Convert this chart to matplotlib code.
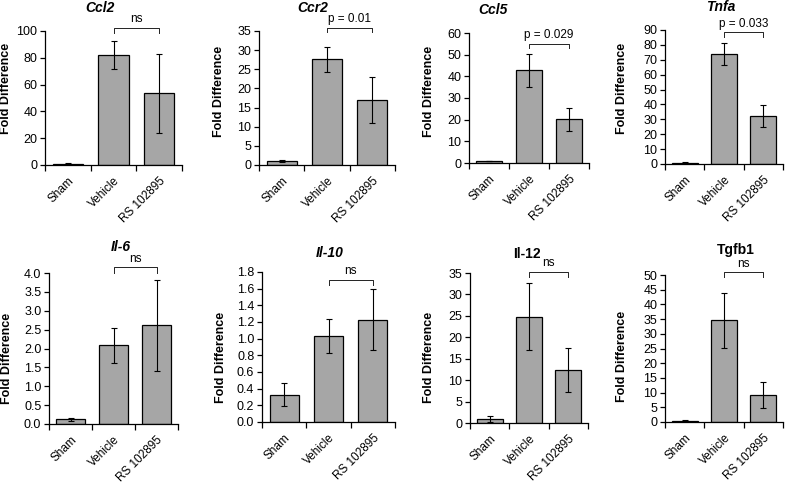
import matplotlib
matplotlib.use("Agg")
import matplotlib.pyplot as plt

plt.rcParams['font.family'] = ['Liberation Sans', 'DejaVu Sans']

# ---------------- data ----------------
groups = ["Sham", "Vehicle", "RS 102895"]
genes = ["Ccl2", "Ccr2", "Ccl5", "Tnfa", "Il-6", "Il-10", "Il-12", "Tgfb1"]
italic_title = [True, True, True, True, True, True, False, False]

ccl2_mean = [0.9, 82.0, 53.6]
ccl2_err = [0.3, 10.5, 29.6]
ccr2_mean = [1.0, 27.6, 17.0]
ccr2_err = [0.2, 3.3, 5.9]
ccl5_mean = [0.9, 42.7, 20.1]
ccl5_err = [0.2, 7.6, 5.4]
tnfa_mean = [0.9, 73.7, 32.2]
tnfa_err = [0.2, 7.5, 7.3]
il6_mean = [0.12, 2.08, 2.61]
il6_err = [0.03, 0.47, 1.20]
il10_mean = [0.33, 1.03, 1.23]
il10_err = [0.135, 0.205, 0.365]
il12_mean = [0.94, 24.8, 12.4]
il12_err = [0.6, 7.8, 5.2]
tgfb1_mean = [0.45, 34.6, 9.3]
tgfb1_err = [0.2, 9.4, 4.45]

means = [ccl2_mean, ccr2_mean, ccl5_mean, tnfa_mean, il6_mean, il10_mean, il12_mean, tgfb1_mean]
errs = [ccl2_err, ccr2_err, ccl5_err, tnfa_err, il6_err, il10_err, il12_err, tgfb1_err]

y_max = [100, 35, 60, 90, 4.0, 1.8, 35, 50]
y_step = [20, 5, 10, 10, 0.5, 0.2, 5, 5]
y_fmt = ["{:.0f}", "{:.0f}", "{:.0f}", "{:.0f}", "{:.1f}", "{:.1f}", "{:.0f}", "{:.0f}"]

sig_labels = ["ns", "p = 0.01", "p = 0.029", "p = 0.033", "ns", "ns", "ns", "ns"]
bracket_level = [102.2, 35.9, 55.1, 88.4, 4.15, 1.71, 35.3, 50.9]

# ---------------- layout (pixels) ----------------
W, H = 785, 484
# left, right, top, bottom
boxes = [(45, 182, 31, 165), (259, 395, 31, 165), (469, 589, 33, 163), (665, 783, 30, 164),
         (49, 178, 273, 424), (262, 395, 272, 422), (470, 588, 273, 423), (665, 783, 275, 422)]
title_pos = [(100, 8), (313, 8), (493, 10), (721, 7), (121, 247), (330, 253), (527, 254), (736, 250)]
ylabel_center = [(7.5, 88), (220, 91), (430, 91), (623, 88),
                 (8, 358), (222, 357), (430, 357), (623, 356)]

fig = plt.figure(figsize=(W / 100, H / 100), dpi=100)

bar_color = "#a6a6a6"
x = list(range(len(groups)))

for i in range(8):
    l, r, t, b = boxes[i]
    ax = fig.add_axes([l / W, 1 - b / H, (r - l) / W, (b - t) / H])
    ax.bar(x, means[i], width=0.66, color=bar_color, edgecolor="black", linewidth=0.9, zorder=2)
    ax.errorbar(x, means[i], yerr=errs[i], fmt="none", ecolor="black", elinewidth=0.8,
                capsize=2.4, capthick=0.8, zorder=3)
    ax.set_xlim(-0.5, 2.5)
    ax.set_ylim(0, y_max[i])
    n = int(round(y_max[i] / y_step[i]))
    yt = [k * y_step[i] for k in range(n + 1)]
    ax.set_yticks(yt)
    ax.set_yticklabels([y_fmt[i].format(v) for v in yt], fontsize=9)
    ax.set_xticks([-0.5, 0.5, 1.5, 2.5])
    ax.set_xticklabels([])
    ax.set_xticks(x, minor=True)
    ax.set_xticklabels(groups, minor=True, rotation=45, ha="right", va="top",
                       rotation_mode="anchor", fontsize=8.5)
    ax.tick_params(axis="x", which="minor", length=0, pad=7)
    ax.tick_params(axis="x", which="major", length=4, width=0.9, direction="out")
    ax.tick_params(axis="y", length=3.5, width=0.9, direction="out", pad=2)
    for s in ["top", "right"]:
        ax.spines[s].set_visible(False)
    for s in ["left", "bottom"]:
        ax.spines[s].set_linewidth(0.9)
    ax.set_ylabel("Fold Difference", fontsize=9, fontweight="bold")
    lx, ly = ylabel_center[i]
    ax.yaxis.set_label_coords((lx + 5 - l) / (r - l), (b - ly) / (b - t))

    # significance bracket between Vehicle and RS 102895
    yb = bracket_level[i]
    leg = 0.035 * y_max[i]
    ax.plot([1, 1, 2, 2], [yb - leg, yb, yb, yb - leg], color="#222222", lw=0.7,
            clip_on=False, zorder=4)
    ax.annotate(sig_labels[i], xy=(1.5, yb), xytext=(0, 2), textcoords="offset points",
                ha="center", va="bottom", fontsize=8.5, annotation_clip=False)

    tx, ty = title_pos[i]
    fig.text(tx / W, 1 - ty / H, genes[i], ha="center", va="center", fontsize=10,
             fontweight="bold", style="italic" if italic_title[i] else "normal")

fig.savefig("out.png", dpi=100)
